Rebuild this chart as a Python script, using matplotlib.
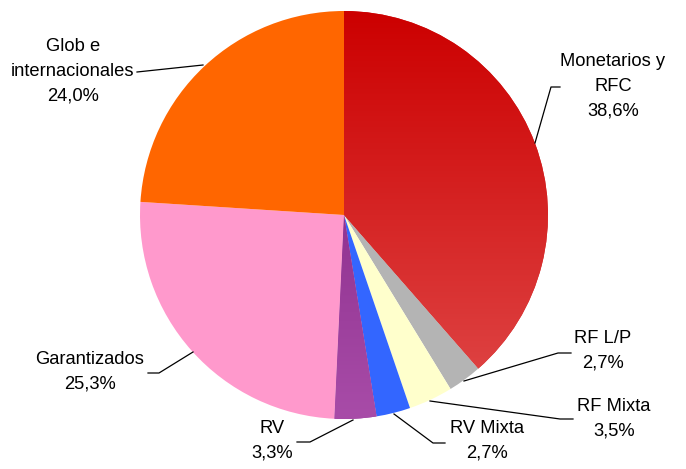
import numpy as np
import matplotlib.pyplot as plt
from matplotlib.colors import LinearSegmentedColormap

plt.rcParams['font.family'] = ['Liberation Sans', 'DejaVu Sans']

# Datos
categorias = ['Monetarios y\nRFC', 'RF L/P', 'RF Mixta', 'RV Mixta', 'RV',
              'Garantizados', 'Glob e\ninternacionales']
porcentajes = [38.6, 2.7, 3.5, 2.7, 3.3, 25.3, 24.0]
colores = ['#D42A2A', '#B4B4B4', '#FFFFCC', '#3366FF', '#993399',
           '#FF99CC', '#FF6600']

# figura en pixeles (y medido desde arriba, convertido abajo)
W, H = 686, 469
fig = plt.figure(figsize=(6.86, 4.69), dpi=100)
ax = fig.add_axes([0, 0, 1, 1])

cx, cy, r = 344, H - 215, 204
wedges, _ = ax.pie(porcentajes, colors=colores, startangle=90, counterclock=False,
                   center=(cx, cy), radius=r, frame=True,
                   wedgeprops=dict(linewidth=0, antialiased=True))
ax.set_xlim(0, W)
ax.set_ylim(0, H)
ax.set_aspect('equal')
ax.axis('off')

# degradados (Monetarios y RV)
def degradado(w, c_top, c_bot):
    cmap = LinearSegmentedColormap.from_list('g', [c_top, c_bot])
    grad = np.linspace(0, 1, 256).reshape(-1, 1)
    im = ax.imshow(grad, cmap=cmap, extent=(cx - r, cx + r, cy - r, cy + r),
                   origin='upper', aspect='auto', zorder=w.get_zorder() + 0.1)
    im.set_clip_path(w)

degradado(wedges[0], '#CC0000', '#E04A4A')
degradado(wedges[4], '#7A1A7A', '#A84CA8')

# etiquetas: (texto, x, y_centro, linea de guia)
def y(v):
    return H - v

etiquetas = [
    (categorias[0] + '\n38,6%', 613, 86, [(535, 143), (551, 87), (560, 87)]),
    (categorias[1] + '\n2,7%', 603, 351, [(464, 381), (558, 353), (571, 353)]),
    (categorias[2] + '\n3,5%', 614, 419, [(430, 401), (560, 419), (573, 419)]),
    (categorias[3] + '\n2,7%', 487, 441, [(394, 414), (433, 443), (445, 443)]),
    (categorias[4] + '\n3,3%', 272, 441, [(353, 420), (310, 442), (297, 442)]),
    (categorias[5] + '\n25,3%', 90, 372, [(193, 352), (159, 373), (148, 373)]),
    (categorias[6] + '\n24,0%', 73, 71, [(203, 65), (137, 72)]),
]

for txt, tx, ty, linea in etiquetas:
    ax.text(tx, y(ty), txt, ha='center', va='center', fontsize=13.2,
            linespacing=1.58, color='black')
    xs = [p[0] for p in linea]
    ys = [y(p[1]) for p in linea]
    ax.plot(xs, ys, color='black', linewidth=0.9)

plt.savefig('out.png', dpi=100)
